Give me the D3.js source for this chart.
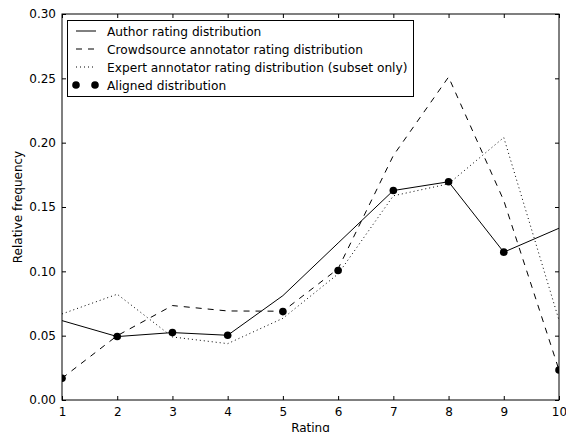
<!DOCTYPE html>
<html>
<head>
<meta charset="utf-8">
<script src="https://cdn.jsdelivr.net/npm/d3@7"></script>
<style>
  body { margin: 0; background: #fff; }
  text { font-family: "DejaVu Sans", sans-serif; fill: #000; }
</style>
</head>
<body>
<svg></svg>
<script>
width = 566;
height = 432;

// data
ratings = [1, 2, 3, 4, 5, 6, 7, 8, 9, 10];
author = [0.0617, 0.0493, 0.0524, 0.0503, 0.0811, 0.1220, 0.1628, 0.1696, 0.1149, 0.1335];
crowd = [0.0169, 0.0500, 0.0734, 0.0692, 0.0690, 0.1020, 0.1900, 0.2510, 0.1550, 0.0233];
expert = [0.0669, 0.0822, 0.0490, 0.0438, 0.0635, 0.0980, 0.1587, 0.1680, 0.2040, 0.0620];
aligned = [0.0169, 0.0493, 0.0524, 0.0503, 0.0687, 0.1006, 0.1628, 0.1696, 0.1149, 0.0233];
yTicks = [0, 0.05, 0.10, 0.15, 0.20, 0.25, 0.30];
legendLabels = [
  'Author rating distribution',
  'Crowdsource annotator rating distribution',
  'Expert annotator rating distribution (subset only)',
  'Aligned distribution'
];

// plot box (window.top is read-only, so not called "top")
pLeft = 62; pRight = 559; pTop = 14; pBottom = 400;

svg = d3.select('svg')
  .attr('width', width)
  .attr('height', height);

x = d3.scaleLinear().domain([1, 10]).range([pLeft, pRight]);
y = d3.scaleLinear().domain([0, 0.3]).range([pBottom, pTop]);

svg.append('clipPath').attr('id', 'plot')
  .append('rect')
  .attr('x', pLeft).attr('y', pTop)
  .attr('width', pRight - pLeft).attr('height', pBottom - pTop);

plot = svg.append('g').attr('clip-path', 'url(#plot)');

line = d3.line().x((d, i) => x(ratings[i])).y(d => y(d));

series = [
  { values: author, dash: null },
  { values: crowd, dash: '6,6' },
  { values: expert, dash: '1,3' }
];

series.forEach(s => {
  plot.append('path')
    .datum(s.values)
    .attr('d', line)
    .attr('fill', 'none')
    .attr('stroke', '#000')
    .attr('stroke-width', 1)
    .attr('stroke-dasharray', s.dash);
});

plot.selectAll('circle.aligned')
  .data(aligned)
  .enter().append('circle')
  .attr('class', 'aligned')
  .attr('cx', (d, i) => x(ratings[i]))
  .attr('cy', d => y(d))
  .attr('r', 3.8)
  .attr('fill', '#000');

// axes, ticks inward on all four sides
xAxisB = d3.axisBottom(x).tickValues(ratings).tickSizeInner(-4).tickSizeOuter(0).tickPadding(7);
xAxisT = d3.axisTop(x).tickValues(ratings).tickSizeInner(-4).tickSizeOuter(0).tickFormat('');
yAxisL = d3.axisLeft(y).tickValues(yTicks).tickSizeInner(-4).tickSizeOuter(0).tickPadding(6).tickFormat(d3.format('.2f'));
yAxisR = d3.axisRight(y).tickValues(yTicks).tickSizeInner(-4).tickSizeOuter(0).tickFormat('');

function styleAxis(g) {
  g.select('.domain').remove();
  g.selectAll('line').attr('stroke', '#000');
  g.selectAll('text').attr('font-size', 12).attr('font-family', 'DejaVu Sans').attr('fill', '#000');
}

svg.append('g').attr('transform', `translate(0,${pBottom})`).call(xAxisB).call(styleAxis);
svg.append('g').attr('transform', `translate(0,${pTop})`).call(xAxisT).call(styleAxis);
svg.append('g').attr('transform', `translate(${pLeft},0)`).call(yAxisL).call(styleAxis);
svg.append('g').attr('transform', `translate(${pRight},0)`).call(yAxisR).call(styleAxis);

svg.append('rect')
  .attr('x', pLeft).attr('y', pTop)
  .attr('width', pRight - pLeft).attr('height', pBottom - pTop)
  .attr('fill', 'none').attr('stroke', '#000').attr('stroke-width', 1);

svg.append('text')
  .attr('x', (pLeft + pRight) / 2).attr('y', 432)
  .attr('text-anchor', 'middle').attr('font-size', 12)
  .text('Rating');

svg.append('text')
  .attr('transform', `translate(22,${(pTop + pBottom) / 2}) rotate(-90)`)
  .attr('text-anchor', 'middle').attr('font-size', 12)
  .text('Relative frequency');

// legend
legend = svg.append('g');
legend.append('rect')
  .attr('x', 67.5).attr('y', 20.5).attr('width', 346).attr('height', 76)
  .attr('fill', '#fff').attr('stroke', '#000').attr('stroke-width', 1);

rows = legend.selectAll('g.row')
  .data(legendLabels)
  .enter().append('g')
  .attr('class', 'row')
  .attr('transform', (d, i) => `translate(0,${31 + i * 18})`);

rows.append('text')
  .attr('x', 107).attr('y', 4.5)
  .attr('font-size', 12.2)
  .text(d => d);

rows.filter((d, i) => i < 3).append('line')
  .attr('x1', 76).attr('x2', 96).attr('y1', 0).attr('y2', 0)
  .attr('stroke', '#000').attr('stroke-width', 1)
  .attr('stroke-dasharray', (d, i) => series[i].dash);

rows.filter((d, i) => i === 3).selectAll('circle')
  .data([76, 95])
  .enter().append('circle')
  .attr('cx', d => d).attr('cy', 0).attr('r', 3.8).attr('fill', '#000');
</script>
</body>
</html>
